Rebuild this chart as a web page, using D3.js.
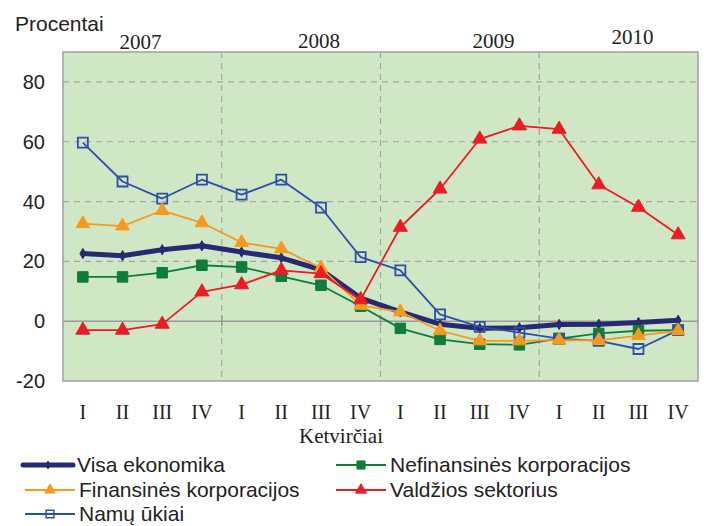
<!DOCTYPE html>
<html>
<head>
<meta charset="utf-8">
<script src="https://cdn.jsdelivr.net/npm/d3@7"></script>
<style>
  body { margin: 0; background: #fff; }
  svg { display: block; }
</style>
</head>
<body>
<div id="chart"></div>
<script>
var width = 704, height = 526

// quarters 2007 I - 2010 IV
var quarters = ["I", "II", "III", "IV", "I", "II", "III", "IV", "I", "II", "III", "IV", "I", "II", "III", "IV"]
var years = ["2007", "2008", "2009", "2010"]
var yTicks = [-20, 0, 20, 40, 60, 80]

var visaEkonomika = [22.6, 21.9, 23.9, 25.2, 23.1, 21.2, 17.2, 7.7, 3.1, -1.0, -2.4, -2.2, -1.1, -1.0, -0.4, 0.3]
var nefinansines = [14.8, 14.8, 16.2, 18.7, 18.1, 15.0, 12.0, 5.0, -2.4, -6.1, -7.7, -7.9, -5.8, -4.1, -3.2, -3.0]
var finansines = [32.6, 31.8, 37.0, 32.9, 26.3, 24.2, 17.8, 5.3, 3.1, -3.2, -6.6, -6.6, -6.3, -6.4, -4.8, -3.2]
var valdzios = [-3.0, -3.0, -1.0, 9.8, 12.2, 17.0, 15.9, 7.2, 31.4, 44.2, 60.9, 65.3, 64.2, 45.6, 38.1, 28.9]
var namuUkiai = [59.7, 46.7, 41.0, 47.3, 42.3, 47.3, 38.0, 21.4, 17.0, 2.3, -1.9, -3.8, -5.8, -6.6, -9.3, -3.0]

var series = [
  { name: "Visa ekonomika", values: visaEkonomika, color: "#262a70", width: 5, symbol: d3.symbolDiamond, size: 30, fill: true },
  { name: "Nefinansinės korporacijos", values: nefinansines, color: "#0f7c3c", width: 1.8, symbol: d3.symbolSquare, size: 110, fill: true },
  { name: "Namų ūkiai", values: namuUkiai, color: "#2f4fa6", width: 1.8, symbol: d3.symbolSquare, size: 100, fill: false },
  { name: "Finansinės korporacijos", values: finansines, color: "#f59a1c", width: 1.8, symbol: d3.symbolTriangle, size: 80, fill: true },
  { name: "Valdžios sektorius", values: valdzios, color: "#ec1c24", width: 1.8, symbol: d3.symbolTriangle, size: 85, fill: true }
]

var margin = { left: 63, right: 6, top: 52, bottom: 145 }

var x = d3.scaleBand()
  .domain(d3.range(quarters.length))
  .range([margin.left, width - margin.right])

var y = d3.scaleLinear()
  .domain([-20, 90])
  .range([height - margin.bottom, margin.top])

var svg = d3.select("#chart").append("svg")
  .attr("width", width)
  .attr("height", height)

var sans = "'Liberation Sans', Arial, sans-serif"
var serif = "'Liberation Serif', 'Times New Roman', serif"

// plot background
svg.append("rect")
  .attr("x", x.range()[0])
  .attr("y", y(90))
  .attr("width", x.range()[1] - x.range()[0])
  .attr("height", y(-20) - y(90))
  .attr("fill", "#d0e7c6")

// horizontal grid
svg.selectAll(".hgrid")
  .data(yTicks.filter(function(d) { return d > 0 }))
  .enter().append("line")
    .attr("x1", x.range()[0])
    .attr("x2", x.range()[1])
    .attr("y1", function(d) { return y(d) })
    .attr("y2", function(d) { return y(d) })
    .attr("stroke", "#a3a3a3")
    .attr("stroke-width", 1.2)
    .attr("stroke-dasharray", "6,5")

// year separators
var bounds = [4, 8, 12]
svg.selectAll(".vgrid")
  .data(bounds)
  .enter().append("line")
    .attr("x1", function(d) { return x(d) })
    .attr("x2", function(d) { return x(d) })
    .attr("y1", y(90))
    .attr("y2", y(-20))
    .attr("stroke", "#a3a3a3")
    .attr("stroke-width", 1.2)
    .attr("stroke-dasharray", "6,5")

// zero line + small ticks
svg.append("line")
  .attr("x1", x.range()[0]).attr("x2", x.range()[1])
  .attr("y1", y(0)).attr("y2", y(0))
  .attr("stroke", "#9a9a9a").attr("stroke-width", 1.5)
svg.selectAll(".ztick")
  .data(bounds)
  .enter().append("line")
    .attr("x1", function(d) { return x(d) })
    .attr("x2", function(d) { return x(d) })
    .attr("y1", y(0) - 6)
    .attr("y2", y(0) + 5)
    .attr("stroke", "#9a9a9a")
    .attr("stroke-width", 1.5)

// border
svg.append("rect")
  .attr("x", x.range()[0])
  .attr("y", y(90))
  .attr("width", x.range()[1] - x.range()[0])
  .attr("height", y(-20) - y(90))
  .attr("fill", "none")
  .attr("stroke", "#a0a0a0")
  .attr("stroke-width", 1.5)

// y labels
svg.selectAll(".ylab")
  .data(yTicks)
  .enter().append("text")
    .attr("x", 45)
    .attr("y", function(d) { return y(d) + 7 })
    .attr("text-anchor", "end")
    .attr("font-family", sans)
    .attr("font-size", 20)
    .attr("fill", "#222")
    .text(function(d) { return d })

svg.append("text")
  .attr("x", 15).attr("y", 31)
  .attr("font-family", sans).attr("font-size", 21).attr("fill", "#222")
  .text("Procentai")

// year labels (placed roughly as in original, in quarter units)
var yearPos = [[1.95, 49], [6.45, 48], [10.85, 48], [14.35, 44]]
svg.selectAll(".year")
  .data(years)
  .enter().append("text")
    .attr("x", function(d, i) { return x.range()[0] + yearPos[i][0] * x.step() })
    .attr("y", function(d, i) { return yearPos[i][1] })
    .attr("text-anchor", "middle")
    .attr("font-family", serif)
    .attr("font-size", 21)
    .attr("fill", "#222")
    .text(function(d) { return d })

// quarter labels
svg.selectAll(".qlab")
  .data(quarters)
  .enter().append("text")
    .attr("x", function(d, i) { return x(i) + x.bandwidth() / 2 })
    .attr("y", 419)
    .attr("text-anchor", "middle")
    .attr("font-family", serif)
    .attr("font-size", 20)
    .attr("fill", "#222")
    .text(function(d) { return d })

svg.append("text")
  .attr("x", 341).attr("y", 443)
  .attr("text-anchor", "middle")
  .attr("font-family", serif).attr("font-size", 21).attr("fill", "#222")
  .text("Ketvirčiai")

// lines
var line = d3.line()
  .x(function(d, i) { return x(i) + x.bandwidth() / 2 })
  .y(function(d) { return y(d) })

series.forEach(function(s) {
  var g = svg.append("g")
  g.append("path")
    .datum(s.values)
    .attr("d", line)
    .attr("fill", "none")
    .attr("stroke", s.color)
    .attr("stroke-width", s.width)
    .attr("stroke-linejoin", "round")

  g.selectAll("path.pt")
    .data(s.values)
    .enter().append("path")
      .attr("class", "pt")
      .attr("transform", function(d, i) { return "translate(" + (x(i) + x.bandwidth() / 2) + "," + y(d) + ")" })
      .attr("d", d3.symbol().type(s.symbol).size(s.size))
      .attr("fill", s.fill ? s.color : "none")
      .attr("stroke", s.color)
      .attr("stroke-width", s.fill ? 1 : 1.8)
})

// legend
var legendItems = [
  { s: series[0], x: 23, y: 465 },
  { s: series[1], x: 336, y: 465 },
  { s: series[3], x: 25, y: 490 },
  { s: series[4], x: 336, y: 490 },
  { s: series[2], x: 25, y: 514 }
]

legendItems.forEach(function(it) {
  var s = it.s
  var x1 = it.x, x2 = it.x + 50
  svg.append("line")
    .attr("x1", x1).attr("x2", x2)
    .attr("y1", it.y).attr("y2", it.y)
    .attr("stroke", s.color)
    .attr("stroke-width", s.width)
    .attr("stroke-linecap", s.width > 2 ? "round" : "butt")
  svg.append("path")
    .attr("transform", "translate(" + ((x1 + x2) / 2) + "," + it.y + ")")
    .attr("d", d3.symbol().type(s.symbol).size(s.size * 0.6))
    .attr("fill", s.fill ? s.color : "none")
    .attr("stroke", s.color)
    .attr("stroke-width", s.fill ? 1 : 1.5)
  svg.append("text")
    .attr("x", x2 + 4)
    .attr("y", it.y + 7)
    .attr("font-family", sans)
    .attr("font-size", 21)
    .attr("fill", "#222")
    .text(s.name)
})
</script>
</body>
</html>
